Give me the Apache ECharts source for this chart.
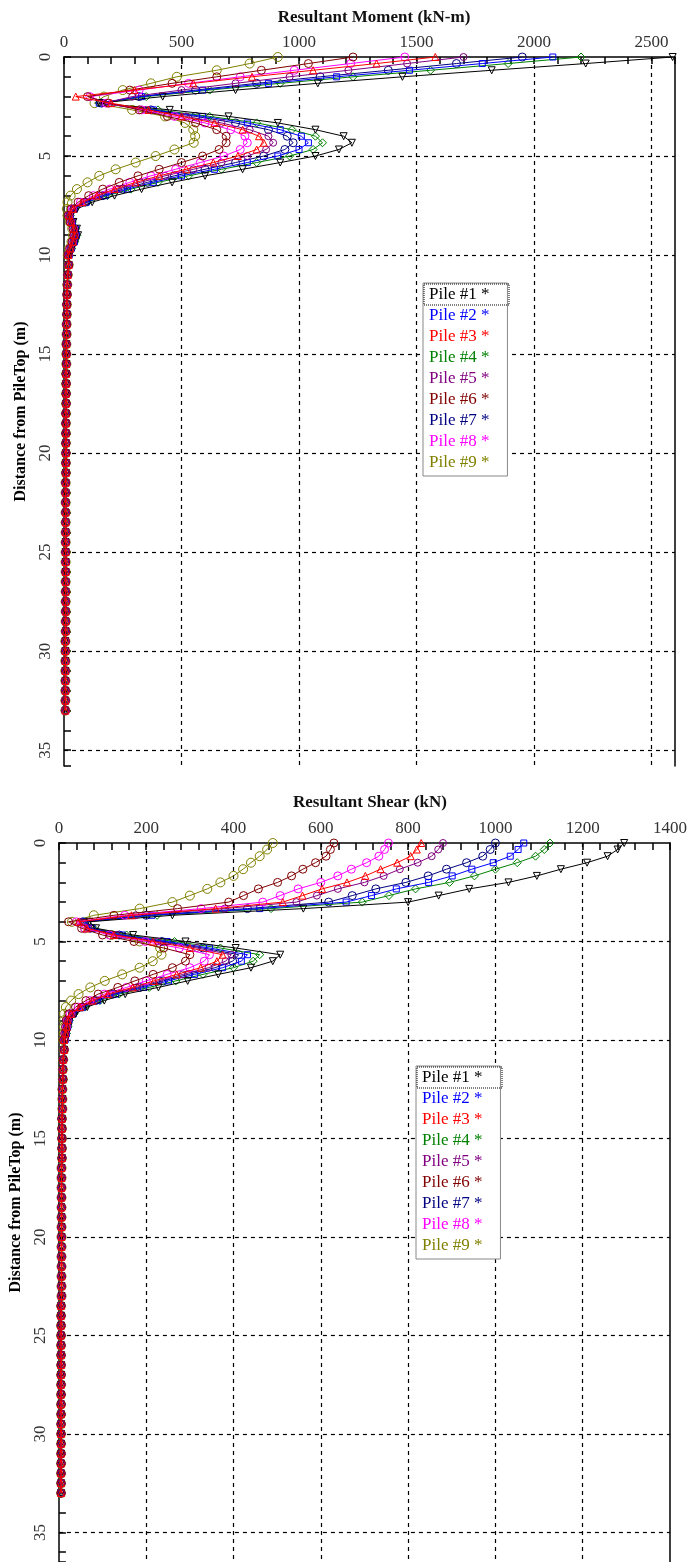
<!DOCTYPE html>
<html lang="en">
<head>
<meta charset="UTF-8">
<title>Resultant Moment and Shear</title>
<script src="https://cdn.jsdelivr.net/npm/echarts@6/dist/echarts.min.js"></script>
<style>
  html, body { margin: 0; padding: 0; background: #fff; }
  #chart { width: 690px; height: 1562px; }
</style>
</head>
<body>
<div id="chart"></div>
<script>
// depth below pile top (m)
var depthUpper = [0, 0.33, 0.67, 1, 1.33, 1.67, 2, 2.33, 2.67, 3, 3.33, 3.67, 4, 4.33, 4.67, 5,
  5.33, 5.67, 6, 6.33, 6.67, 7, 7.33, 7.67, 8, 8.33, 8.67, 9, 9.33, 9.67, 10];
var depthTail = [10.5, 11, 11.5, 12, 12.5, 13, 13.5, 14, 14.5, 15, 15.5, 16, 16.5, 17, 17.5, 18,
  18.5, 19, 19.5, 20, 20.5, 21, 21.5, 22, 22.5, 23, 23.5, 24, 24.5, 25, 25.5, 26, 26.5, 27, 27.5,
  28, 28.5, 29, 29.5, 30, 30.5, 31, 31.5, 32, 32.5, 33];

var pileNames = ['Pile #1', 'Pile #2', 'Pile #3', 'Pile #4', 'Pile #5', 'Pile #6', 'Pile #7', 'Pile #8', 'Pile #9'];

// resultant moment (kN-m), depths 0..10 m
var moment1 = [2590, 2220, 1820, 1440, 1080, 730, 420, 150, 450, 700, 910, 1070, 1190, 1225, 1170, 1070, 920, 760, 600, 460, 330, 215, 120, 55, 30, 40, 55, 60, 50, 35, 25];
var moment2 = [2080, 1780, 1470, 1160, 870, 590, 330, 150, 380, 590, 780, 920, 1010, 1040, 1000, 910, 780, 640, 500, 380, 270, 175, 95, 45, 25, 35, 48, 52, 44, 30, 22];
var moment3 = [1580, 1330, 1060, 800, 550, 300, 50, 200, 360, 500, 640, 760, 830, 850, 820, 740, 635, 520, 405, 305, 215, 140, 78, 38, 22, 30, 42, 45, 38, 27, 19];
var moment4 = [2200, 1890, 1560, 1230, 920, 620, 350, 150, 400, 620, 820, 970, 1070, 1100, 1060, 960, 820, 670, 530, 400, 285, 185, 100, 45, 25, 35, 50, 55, 45, 32, 22];
var moment5 = [1700, 1460, 1210, 960, 730, 500, 290, 170, 350, 520, 670, 790, 870, 890, 860, 780, 670, 550, 430, 325, 230, 150, 85, 40, 24, 32, 44, 48, 40, 28, 20];
var moment6 = [1230, 1040, 840, 650, 460, 280, 100, 190, 320, 440, 560, 650, 690, 690, 660, 590, 500, 405, 315, 235, 165, 105, 60, 30, 18, 26, 38, 41, 34, 24, 17];
var moment7 = [1950, 1670, 1380, 1090, 820, 560, 320, 160, 370, 560, 730, 870, 950, 975, 940, 850, 730, 600, 470, 355, 250, 165, 90, 42, 25, 33, 46, 50, 42, 30, 20];
var moment8 = [1450, 1220, 980, 750, 530, 320, 110, 180, 330, 470, 600, 710, 770, 780, 750, 680, 580, 475, 370, 280, 195, 125, 70, 35, 20, 28, 40, 43, 36, 25, 18];
var moment9 = [910, 790, 650, 480, 370, 250, 170, 130, 290, 430, 515, 550, 558, 552, 470, 390, 305, 220, 150, 100, 55, 28, 15, 12, 15, 24, 35, 38, 32, 22, 16];
// below 10 m all piles read the same
var momentTail = [20, 16, 14, 13, 12, 12, 11, 11, 10, 10, 10, 9, 9, 9, 9, 8, 8, 8, 8, 8,
  8, 8, 7, 7, 7, 7, 7, 7, 7, 7, 7, 7, 7, 7, 7, 7, 7, 7, 6, 6, 6, 6, 6, 6, 6, 6];

// resultant shear (kN), depths 0..10 m
var shear1 = [1295, 1280, 1257, 1210, 1150, 1095, 1030, 940, 870, 800, 560, 260, 70, 85, 170, 290, 405, 507, 490, 440, 365, 295, 228, 152, 104, 65, 38, 25, 22, 18, 15];
var shear2 = [1065, 1052, 1034, 995, 946, 901, 847, 773, 716, 658, 460, 213, 58, 76, 145, 248, 345, 432, 418, 375, 311, 251, 194, 130, 89, 55, 33, 23, 20, 17, 14];
var shear3 = [830, 820, 806, 775, 737, 702, 660, 603, 558, 513, 359, 166, 45, 64, 126, 215, 300, 375, 362, 325, 270, 218, 169, 112, 77, 48, 28, 20, 18, 15, 12];
var shear4 = [1125, 1112, 1092, 1050, 1000, 952, 895, 817, 756, 695, 486, 225, 60, 80, 155, 265, 370, 460, 445, 400, 330, 268, 207, 138, 94, 59, 35, 24, 21, 17, 14];
var shear5 = [880, 869, 854, 822, 781, 744, 700, 639, 591, 544, 380, 176, 48, 68, 132, 226, 316, 395, 382, 343, 284, 229, 178, 118, 81, 51, 30, 21, 19, 16, 13];
var shear6 = [630, 622, 612, 588, 559, 533, 501, 457, 423, 389, 272, 126, 22, 52, 100, 172, 240, 300, 290, 260, 216, 174, 135, 90, 62, 38, 23, 17, 15, 13, 11];
var shear7 = [1000, 988, 971, 934, 888, 846, 795, 726, 672, 618, 432, 200, 55, 72, 138, 236, 330, 412, 398, 358, 297, 239, 185, 124, 84, 53, 31, 22, 19, 16, 13];
var shear8 = [755, 746, 733, 705, 670, 639, 600, 548, 507, 467, 326, 151, 40, 59, 116, 198, 276, 345, 333, 300, 248, 200, 155, 104, 71, 44, 26, 19, 17, 14, 12];
var shear9 = [490, 477, 460, 440, 422, 400, 370, 340, 300, 260, 185, 80, 30, 60, 120, 185, 232, 235, 215, 185, 145, 105, 72, 45, 28, 16, 12, 12, 12, 11, 10];
var shearTail = [12, 10, 9, 9, 8, 8, 8, 7, 7, 7, 7, 7, 6, 6, 6, 6, 6, 6, 6, 6,
  6, 6, 6, 6, 6, 6, 5, 5, 5, 5, 5, 5, 5, 5, 5, 5, 5, 5, 5, 5, 5, 5, 5, 5, 5, 5];

var momentData = [moment1, moment2, moment3, moment4, moment5, moment6, moment7, moment8, moment9];
var shearData = [shear1, shear2, shear3, shear4, shear5, shear6, shear7, shear8, shear9];

var chart = echarts.init(document.getElementById('chart'));

var serif = 'Liberation Serif';
var colors = ['#000000', '#0000ff', '#ff0000', '#008000', '#800080', '#800000', '#000080', '#ff00ff', '#808000'];
// marker for each pile: [symbol, size, rotate]
var marks = [
  ['triangle', 7, 180], ['rect', 6, 0], ['triangle', 7, 0], ['diamond', 8, 0], ['circle', 7, 0],
  ['circle', 8, 0], ['circle', 8, 0], ['circle', 8, 0], ['circle', 9, 0]
];
// drawing order: red and brown end up on top like the source plot
var layer = [5, 4, 9, 3, 6, 8, 2, 7, 1];
var allDepth = depthUpper.concat(depthTail);

function pairs(vals, tail) {
  var v = vals.concat(tail);
  return v.map(function (x, i) { return [x, allDepth[i]]; });
}

function plain(v) { return String(v); }

function xAxisOf(grid, max, step) {
  return {
    gridIndex: grid, type: 'value', position: 'top', min: 0, max: max, interval: step,
    axisLine: { show: true, onZero: false, lineStyle: { color: '#000', width: 1.5 } },
    axisTick: { show: true, inside: true, length: 7, lineStyle: { color: '#000', width: 1.5 } },
    minorTick: { show: true, splitNumber: 5, length: 7, lineStyle: { color: '#000', width: 1.5 } },
    axisLabel: { fontFamily: serif, fontSize: 17, color: '#333', margin: 6, formatter: plain,
      showMaxLabel: max % step === 0 },
    splitLine: { show: true, showMinLine: false, showMaxLine: false, lineStyle: { color: '#000', type: [4, 4], width: 1.2 } }
  };
}

function yAxisOf(grid, max, gap) {
  return {
    gridIndex: grid, type: 'value', inverse: true, min: 0, max: max, interval: 5,
    name: 'Distance from PileTop (m)', nameLocation: 'middle', nameGap: gap,
    nameTextStyle: { fontFamily: serif, fontSize: 16, fontWeight: 'bold', color: '#000' },
    axisLine: { show: true, onZero: false, lineStyle: { color: '#000', width: 1.5 } },
    axisTick: { show: true, inside: true, length: 7, lineStyle: { color: '#000', width: 1.5 } },
    minorTick: { show: true, splitNumber: 5, length: 7, lineStyle: { color: '#000', width: 1.5 } },
    axisLabel: { fontFamily: serif, fontSize: 17, color: '#333', rotate: 90, margin: 10, formatter: plain,
      showMaxLabel: false },
    splitLine: { show: true, showMinLine: false, showMaxLine: false, lineStyle: { color: '#000', type: [4, 4], width: 1.2 } }
  };
}

// plain right border of each plot
function borderAxis(grid, max) {
  return {
    gridIndex: grid, type: 'value', position: 'right', inverse: true, min: 0, max: max,
    axisLine: { show: true, onZero: false, lineStyle: { color: '#000', width: 1.5 } },
    axisTick: { show: false }, axisLabel: { show: false }, splitLine: { show: false }
  };
}

function legendOf(left, top) {
  return {
    left: left, top: top, orient: 'vertical', icon: 'none', itemWidth: 0, itemHeight: 17, itemGap: 4,
    padding: [3, 18, 5, 1], borderColor: '#888', borderWidth: 1, backgroundColor: '#fff',
    selectedMode: false,
    formatter: '{name} *',
    data: pileNames.map(function (n, i) {
      return { name: n, textStyle: { color: colors[i], fontFamily: serif, fontSize: 17, lineHeight: 17 } };
    })
  };
}

var series = [];
[momentData, shearData].forEach(function (set, g) {
  set.forEach(function (vals, i) {
    series.push({
      name: pileNames[i], type: 'line', xAxisIndex: g, yAxisIndex: g * 2,
      data: pairs(vals, g === 0 ? momentTail : shearTail),
      symbol: marks[i][0], symbolSize: marks[i][1], symbolRotate: marks[i][2],
      color: colors[i],
      lineStyle: { color: colors[i], width: 1 },
      itemStyle: { color: 'none', borderColor: colors[i], borderWidth: 1 },
      z: layer[i]
    });
  });
});

var option = {
  backgroundColor: '#fff',
  animation: false,
  title: [
    { text: 'Resultant Moment (kN-m)', left: 369, top: 4, textAlign: 'center',
      textStyle: { fontFamily: serif, fontSize: 17, fontWeight: 'bold', color: '#111' } },
    { text: 'Resultant Shear (kN)', left: 365, top: 789, textAlign: 'center',
      textStyle: { fontFamily: serif, fontSize: 17, fontWeight: 'bold', color: '#111' } }
  ],
  grid: [
    { left: 64, top: 57, width: 611, height: 709 },
    { left: 58, top: 843, width: 612, height: 719 }
  ],
  xAxis: [xAxisOf(0, 2600, 500), xAxisOf(1, 1400, 200)],
  yAxis: [yAxisOf(0, 35.8, 34), borderAxis(0, 35.8), yAxisOf(1, 36.5, 34), borderAxis(1, 36.5)],
  legend: [legendOf(423, 283), legendOf(416, 1066)],
  graphic: [
    { type: 'rect', shape: { x: 424, y: 284, width: 85, height: 21 }, z: 100,
      style: { fill: 'none', stroke: '#000', lineWidth: 1, lineDash: [1, 1] } },
    { type: 'rect', shape: { x: 417, y: 1067, width: 85, height: 21 }, z: 100,
      style: { fill: 'none', stroke: '#000', lineWidth: 1, lineDash: [1, 1] } }
  ],
  series: series
};

chart.setOption(option);
</script>
</body>
</html>
